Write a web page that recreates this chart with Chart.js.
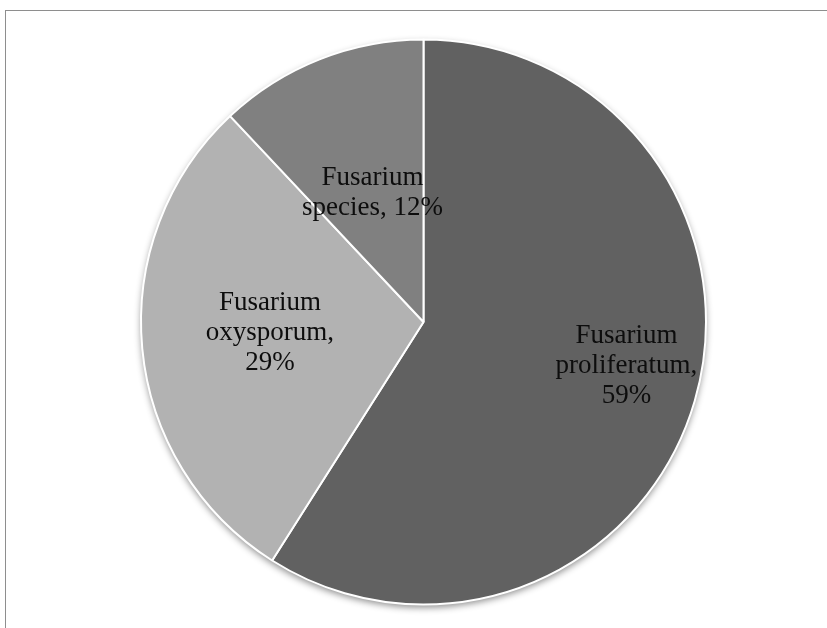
<!DOCTYPE html>
<html>
<head>
<meta charset="utf-8">
<script src="https://cdn.jsdelivr.net/npm/chart.js@4/dist/chart.umd.min.js"></script>
<style>
  html, body { margin: 0; padding: 0; background: #fff; }
  body { width: 827px; height: 628px; overflow: hidden; position: relative; }
  .frame { position: absolute; left: 5px; top: 10px; width: 900px; height: 700px;
           border: 1px solid #8e8e8e; }
  #wrap { position: absolute; left: 0; top: 0; width: 827px; height: 628px; }
</style>
</head>
<body>
<div class="frame"></div>
<div id="wrap"><canvas id="pieChart"></canvas></div>
<script>
// data
const speciesNames = [
  ["Fusarium", "proliferatum,"],
  ["Fusarium", "oxysporum,"],
  ["Fusarium", "species,"]
];
const shares = [59, 29, 12];
const sliceColors = ["#616161", "#b2b2b2", "#808080"];

// where each label sits: fraction of the radius and a small angle nudge (deg)
const labelPlace = [
  { r: 0.735, da: -4 },
  { r: 0.545, da: 1.4 },
  { r: 0.49, da: 0 }
];

// soft shadow under the whole pie
const pieShadow = {
  id: "pieShadow",
  beforeDatasetsDraw(chart) {
    const arc = chart.getDatasetMeta(0).data[0];
    if (!arc) return;
    const ctx = chart.ctx;
    ctx.save();
    ctx.shadowColor = "rgba(0,0,0,0.45)";
    ctx.shadowBlur = 7;
    ctx.shadowOffsetY = 3;
    ctx.beginPath();
    ctx.arc(arc.x, arc.y, arc.outerRadius, 0, Math.PI * 2);
    ctx.fillStyle = "#fff";
    ctx.fill();
    ctx.restore();
  }
};

// labels drawn in each slice, two or three lines like the original
const sliceLabels = {
  id: "sliceLabels",
  afterDatasetsDraw(chart) {
    const ctx = chart.ctx;
    const meta = chart.getDatasetMeta(0);
    ctx.save();
    ctx.font = "27px 'Liberation Serif', 'Times New Roman', serif";
    ctx.fillStyle = "#0d0d0d";
    ctx.textAlign = "center";
    ctx.textBaseline = "middle";
    meta.data.forEach((arc, i) => {
      const p = labelPlace[i];
      const mid = (arc.startAngle + arc.endAngle) / 2 + p.da * Math.PI / 180;
      const rr = arc.outerRadius * p.r;
      const cx = arc.x + Math.cos(mid) * rr;
      const cy = arc.y + Math.sin(mid) * rr;
      let lines;
      if (i === 2) {
        lines = [speciesNames[i][0], speciesNames[i][1] + " " + shares[i] + "%"];
      } else {
        lines = [speciesNames[i][0], speciesNames[i][1], shares[i] + "%"];
      }
      const lh = 30;
      const top = cy - (lines.length - 1) * lh / 2;
      lines.forEach((t, k) => ctx.fillText(t, cx, top + k * lh));
    });
    ctx.restore();
  }
};

const ctx = document.getElementById("pieChart");
new Chart(ctx, {
  type: "pie",
  data: {
    labels: speciesNames.map(n => n.join(" ")),
    datasets: [{
      data: shares,
      backgroundColor: sliceColors,
      borderColor: "#ffffff",
      borderWidth: 2
    }]
  },
  options: {
    responsive: true,
    maintainAspectRatio: false,
    animation: false,
    layout: { padding: { left: 140, right: 120, top: 38, bottom: 22 } },
    plugins: {
      legend: { display: false },
      tooltip: { enabled: false }
    }
  },
  plugins: [pieShadow, sliceLabels]
});
</script>
</body>
</html>
